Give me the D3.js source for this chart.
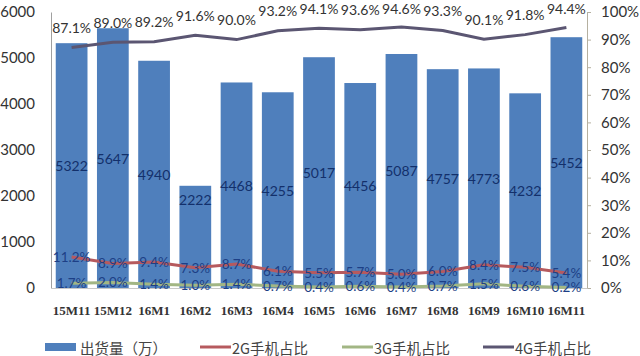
<!DOCTYPE html>
<html><head><meta charset="utf-8">
<script src="https://cdn.jsdelivr.net/npm/d3@7"></script>
<style>body{margin:0;background:#fff}svg{display:block}</style>
</head><body>
<svg id="c" width="640" height="356"></svg>
<script>
const categories = ["15M11","15M12","16M1","16M2","16M3","16M4","16M5","16M6","16M7","16M8","16M9","16M10","16M11"];
const shipments = [5322,5647,4940,2222,4468,4255,5017,4456,5087,4757,4773,4232,5452];
const share2G = [11.2,8.9,9.4,7.3,8.7,6.1,5.5,5.7,5.0,6.0,8.4,7.5,5.4];
const share3G = [1.7,2.0,1.4,1.0,1.4,0.7,0.4,0.6,0.4,0.7,1.5,0.6,0.2];
const share4G = [87.1,89.0,89.2,91.6,90.0,93.2,94.1,93.6,94.6,93.3,90.1,91.8,94.4];
const leftTicks = [0,1000,2000,3000,4000,5000,6000];
const rightTicks = [0,10,20,30,40,50,60,70,80,90,100];
const legendLabels = ["出货量（万）","2G手机占比","3G手机占比","4G手机占比"];

const svg = d3.select("#c");
const L = 51, R = 587, T = 12, B = 288;
const font = "Lato, 'Open Sans', 'Noto Sans', sans-serif";
const cjk = "'Noto Sans CJK SC', sans-serif";
const colors = {bar:"#4f7fbc", g2:"#b65a5e", g3:"#a2b684", g4:"#5b5672"};

const x = d3.scaleBand().domain(categories).range([L, R]).paddingInner(0.23).paddingOuter(0.115);
const yL = d3.scaleLinear().domain([0,6000]).range([B, T]);
const yR = d3.scaleLinear().domain([0,100]).range([B, T]);
const cx = c => x(c) + x.bandwidth()/2;

// axes
const gl = svg.append("g").attr("transform",`translate(${L},0)`)
  .call(d3.axisLeft(yL).tickValues(leftTicks).tickSize(0).tickPadding(16).tickFormat(d3.format("d")));
gl.select(".domain").attr("stroke","#a0a0a0");
gl.selectAll("text").attr("font-family",font).attr("font-size",15).attr("fill","#333");

const gr = svg.append("g").attr("transform",`translate(${R},0)`)
  .call(d3.axisRight(yR).tickValues(rightTicks).tickSize(4).tickPadding(10).tickFormat(d=>d+"%"));
gr.select(".domain").attr("stroke","#b5b0a0");
gr.selectAll(".tick line").attr("stroke","#b5b0a0");
gr.selectAll("text").attr("font-family",font).attr("font-size",15).attr("fill","#333");

// bars
svg.append("g").selectAll("rect").data(categories).join("rect")
  .attr("x", c => x(c)).attr("width", x.bandwidth())
  .attr("y", (c,i) => yL(shipments[i])).attr("height", (c,i) => B - yL(shipments[i]))
  .attr("fill", colors.bar);

const gx = svg.append("g").attr("transform",`translate(0,${B})`)
  .call(d3.axisBottom(x).tickSize(0).tickPadding(18));
gx.select(".domain").attr("stroke","#c8c8c8");
gx.selectAll("text").attr("font-family","'Liberation Serif', serif").attr("font-weight","bold")
  .attr("font-size",13).attr("fill","#333");

// bar value labels (centered, clamped above the lower line labels)
svg.append("g").selectAll("text").data(categories).join("text")
  .attr("x", cx)
  .attr("y", (c,i) => Math.min((yL(shipments[i]) + B)/2, yL(1930)))
  .attr("text-anchor","middle").attr("dominant-baseline","central")
  .attr("font-family",font).attr("font-size",14).attr("fill","#13306b")
  .text((c,i) => shipments[i]);

// lines
const line = (arr) => d3.line().x((c,i)=>cx(categories[i])).y((d)=>yR(d))(arr);
[[share3G,colors.g3],[share2G,colors.g2],[share4G,colors.g4]].forEach(([arr,col])=>{
  svg.append("path").attr("d", line(arr)).attr("fill","none").attr("stroke",col).attr("stroke-width",3);
});

// line labels
const fmt = d => d.toFixed(1) + "%";
svg.append("g").selectAll("text").data(share4G).join("text")
  .attr("x",(d,i)=>cx(categories[i])).attr("y",d=>Math.max(yR(d)-20, 8))
  .attr("text-anchor","middle").attr("dominant-baseline","central")
  .attr("font-family",font).attr("font-size",14).attr("fill","#333").text(fmt);
[share2G, share3G].forEach(arr=>{
  svg.append("g").selectAll("text").data(arr).join("text")
    .attr("x",(d,i)=>cx(categories[i])).attr("y",d=>yR(d))
    .attr("text-anchor","middle").attr("dominant-baseline","central")
    .attr("font-family",font).attr("font-size",13.5).attr("fill","#1d3f86").text(fmt);
});

// legend
const ly = 347;
const lg = svg.append("g");
lg.append("rect").attr("x",45).attr("y",ly-4).attr("width",31).attr("height",8).attr("fill",colors.bar);
lg.append("text").attr("x",80).attr("y",ly).attr("dominant-baseline","central")
  .attr("font-family",cjk).attr("font-size",14.5).attr("fill","#444").text(legendLabels[0]);
[[200,colors.g2,legendLabels[1]],[342,colors.g3,legendLabels[2]],[483,colors.g4,legendLabels[3]]].forEach(([lx,col,t])=>{
  lg.append("line").attr("x1",lx).attr("x2",lx+31).attr("y1",ly).attr("y2",ly).attr("stroke",col).attr("stroke-width",3);
  lg.append("text").attr("x",lx+32).attr("y",ly).attr("dominant-baseline","central")
    .attr("font-family",cjk).attr("font-size",14.5).attr("fill","#444").text(t);
});
</script>
</body></html>
